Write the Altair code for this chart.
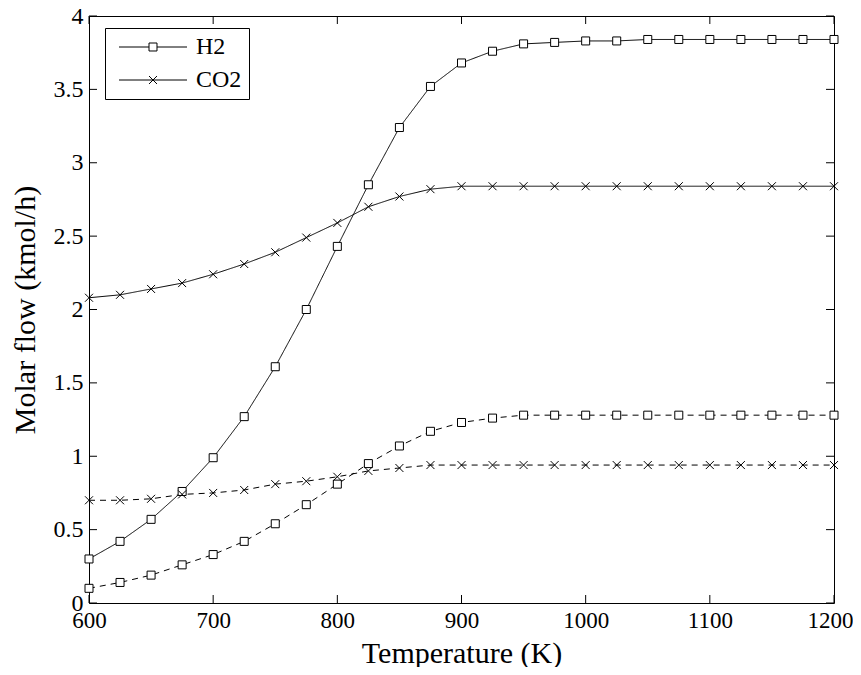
import altair as alt
import pandas as pd

# ---- data ----
temps = [600, 625, 650, 675, 700, 725, 750, 775, 800, 825, 850, 875, 900,
         925, 950, 975, 1000, 1025, 1050, 1075, 1100, 1125, 1150, 1175, 1200]
h2_solid = [0.30, 0.42, 0.57, 0.76, 0.99, 1.27, 1.61, 2.00, 2.43, 2.85, 3.24, 3.52, 3.68,
            3.76, 3.81, 3.82, 3.83, 3.83, 3.84, 3.84, 3.84, 3.84, 3.84, 3.84, 3.84]
co2_solid = [2.08, 2.10, 2.14, 2.18, 2.24, 2.31, 2.39, 2.49, 2.59, 2.70, 2.77, 2.82, 2.84,
             2.84, 2.84, 2.84, 2.84, 2.84, 2.84, 2.84, 2.84, 2.84, 2.84, 2.84, 2.84]
h2_dashed = [0.10, 0.14, 0.19, 0.26, 0.33, 0.42, 0.54, 0.67, 0.81, 0.95, 1.07, 1.17, 1.23,
             1.26, 1.28, 1.28, 1.28, 1.28, 1.28, 1.28, 1.28, 1.28, 1.28, 1.28, 1.28]
co2_dashed = [0.70, 0.70, 0.71, 0.74, 0.75, 0.77, 0.81, 0.83, 0.86, 0.90, 0.92, 0.94, 0.94,
              0.94, 0.94, 0.94, 0.94, 0.94, 0.94, 0.94, 0.94, 0.94, 0.94, 0.94, 0.94]
species = ["H2", "CO2"]
x_ticks = [600, 700, 800, 900, 1000, 1100, 1200]
y_ticks = [0, 0.5, 1, 1.5, 2, 2.5, 3, 3.5, 4]

rows = []
for sp, case, vals in [("H2", "a", h2_solid), ("CO2", "a", co2_solid),
                       ("H2", "b", h2_dashed), ("CO2", "b", co2_dashed)]:
    for t, v in zip(temps, vals):
        rows.append({"T": t, "flow": v, "species": sp, "case": case, "grp": sp + case})
df = pd.DataFrame(rows)

W, H = 745, 587
FONT = "Liberation Serif"
TL = 8  # inward tick length

xs = alt.Scale(domain=[600, 1200], nice=False, zero=False)
ys = alt.Scale(domain=[0, 4], nice=False, zero=False)

X = alt.X("T:Q", scale=xs, axis=alt.Axis(values=x_ticks, format="d", title="Temperature (K)",
                                          grid=False, ticks=False, domain=False,
                                          labelPadding=6, labelFontSize=23, titlePadding=6,
                                          labelOffset=alt.condition("datum.value == 1200",
                                                                    alt.value(-4), alt.value(0)),
                                          labelOverlap=False, labelFlush=False))
Y = alt.Y("flow:Q", scale=ys, axis=alt.Axis(values=y_ticks, format=".1~f", title="Molar flow (kmol/h)",
                                             grid=False, ticks=False, domain=False,
                                             labelPadding=6, titlePadding=13,
                                             labelOverlap=False, labelFlush=False))

CROSS = "M-1,-1L1,1M-1,1L1,-1"
LEG_SQ = "M-4,0H-0.47M0.47,0H4M-0.47,-0.47H0.47V0.47H-0.47Z"
LEG_X = "M-4,0H4M-0.47,-0.47L0.47,0.47M-0.47,0.47L0.47,-0.47"

lines = alt.Chart(df).mark_line(color="black", strokeWidth=1).encode(
    x=X, y=Y, detail="grp:N",
    strokeDash=alt.StrokeDash("case:N", scale=alt.Scale(domain=["a", "b"], range=[[1, 0], [6, 5]]),
                              legend=None),
)

points = alt.Chart(df).mark_point(filled=False, fill="white", fillOpacity=1, stroke="black",
                                  strokeWidth=1, opacity=1, size=64).encode(
    x="T:Q", y="flow:Q",
    shape=alt.Shape("species:N", scale=alt.Scale(domain=species, range=["square", CROSS]), legend=None),
)

legend_layer = alt.Chart(pd.DataFrame({"species": species})).transform_filter(
    "datum.species == 'none'"
).mark_point(filled=False, stroke="black", strokeWidth=1, opacity=1).encode(
    shape=alt.Shape("species:N", scale=alt.Scale(domain=species, range=[LEG_SQ, LEG_X]),
                    legend=alt.Legend(title=None, orient="none", legendX=16, legendY=12,
                                      padding=7, strokeColor="black", fillColor="white",
                                      cornerRadius=0, symbolSize=289, symbolStrokeWidth=1,
                                      symbolStrokeColor="black", symbolFillColor="white",
                                      symbolOffset=29, labelOffset=31, rowPadding=9,
                                      labelFont=FONT, labelFontSize=24, labelColor="black")),
)

xt = pd.DataFrame({"T": x_ticks})
yt = pd.DataFrame({"flow": y_ticks})
xtick_b = alt.Chart(xt).mark_rule(color="black", strokeWidth=1).encode(
    x="T:Q", y=alt.value(H), y2=alt.value(H - TL))
xtick_t = alt.Chart(xt).mark_rule(color="black", strokeWidth=1).encode(
    x="T:Q", y=alt.value(0), y2=alt.value(TL))
ytick_l = alt.Chart(yt).mark_rule(color="black", strokeWidth=1).encode(
    y="flow:Q", x=alt.value(0), x2=alt.value(TL))
ytick_r = alt.Chart(yt).mark_rule(color="black", strokeWidth=1).encode(
    y="flow:Q", x=alt.value(W - TL), x2=alt.value(W))

chart = alt.layer(lines, points, xtick_b, xtick_t, ytick_l, ytick_r, legend_layer).resolve_scale(
    shape="independent"
).properties(
    width=W, height=H,
    background="white",
    autosize=alt.AutoSizeParams(type="none"),
    padding={"left": 81, "top": 8, "right": 19, "bottom": 64},
).configure_view(
    stroke="black", strokeWidth=1
).configure_axis(
    labelFont=FONT, labelFontSize=24, labelColor="black",
    titleFont=FONT, titleFontSize=30, titleColor="black", titleFontWeight="normal",
)

chart.save("out.html", embed_options={"renderer": "svg", "actions": False})
